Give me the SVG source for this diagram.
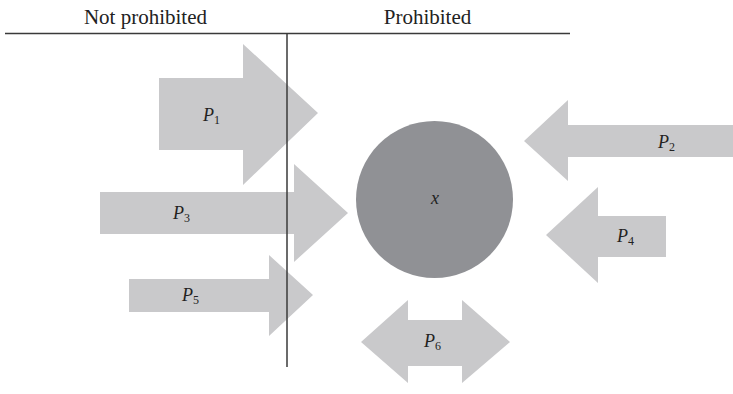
<svg xmlns="http://www.w3.org/2000/svg" width="733" height="394" viewBox="0 0 733 394">
<style>
.arrow{fill:#c9c9cb;stroke:none}
.rule{stroke:#3a3a3a;stroke-width:1.5;fill:none}
.hdr{font-family:"Liberation Serif","DejaVu Serif",serif;font-size:21px;fill:#222;text-anchor:middle}
.lbl{font-family:"Liberation Serif","DejaVu Serif",serif;font-size:18px;font-style:italic;fill:#222}
.sub{font-size:12px;font-style:normal}
</style>
<rect width="733" height="394" fill="#fff"/>
<g id="P1"><polygon class="arrow" points="159,78 243,78 243,44 318,113 243,185 243,150 159,150"/><text class="lbl" x="203" y="121">P<tspan class="sub" dy="3">1</tspan></text></g>
<g id="P3"><polygon class="arrow" points="100,192 294,192 294,164 348,213 294,262 294,234 100,234"/><text class="lbl" x="173" y="219">P<tspan class="sub" dy="3">3</tspan></text></g>
<g id="P5"><polygon class="arrow" points="129,279 269,279 269,255 313,295 269,336 269,312 129,312"/><text class="lbl" x="182" y="301">P<tspan class="sub" dy="3">5</tspan></text></g>
<g id="X"><circle cx="434.5" cy="199.5" r="78.5" fill="#909195"/><text class="lbl" x="431" y="204">x</text></g>
<g id="P2"><polygon class="arrow" points="524,141 568,100 568,125 733,125 733,157 568,157 568,181"/><text class="lbl" x="658" y="148">P<tspan class="sub" dy="3">2</tspan></text></g>
<g id="P4"><polygon class="arrow" points="546,235 598,187 598,216 666,216 666,257 598,257 598,283"/><text class="lbl" x="617" y="242">P<tspan class="sub" dy="3">4</tspan></text></g>
<g id="P6"><polygon class="arrow" points="361,342 408,300 408,320 462,320 462,300 510,342 462,383 462,366 408,366 408,383"/><text class="lbl" x="424" y="347">P<tspan class="sub" dy="3">6</tspan></text></g>
<g id="connectors">
<line class="rule" x1="5" y1="33.5" x2="570" y2="33.5"/>
<line class="rule" x1="287" y1="33.5" x2="287" y2="367"/>
</g>
<g id="headers">
<text class="hdr" x="145.5" y="24">Not prohibited</text>
<text class="hdr" x="427.5" y="24">Prohibited</text>
</g>
</svg>
